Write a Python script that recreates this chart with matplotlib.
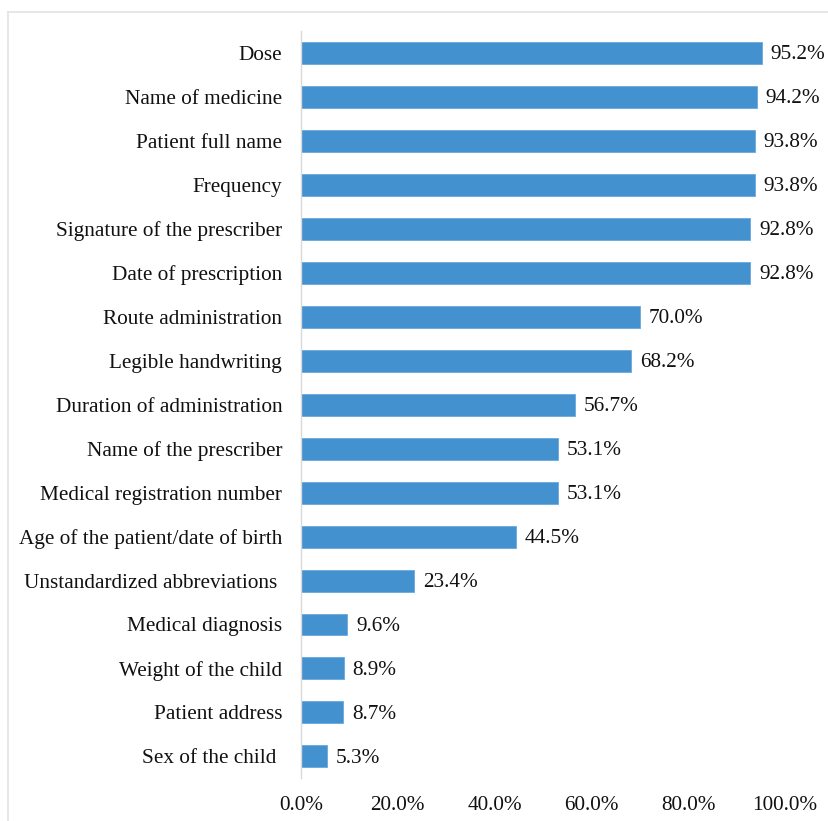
import matplotlib.pyplot as plt
from matplotlib.lines import Line2D
from matplotlib.ticker import FuncFormatter

plt.rcParams["font.family"] = ["Liberation Serif", "DejaVu Serif"]

items = [
    "Dose",
    "Name of medicine",
    "Patient full name",
    "Frequency",
    "Signature of the prescriber",
    "Date of prescription",
    "Route administration",
    "Legible handwriting",
    "Duration of administration",
    "Name of the prescriber",
    "Medical registration number",
    "Age of the patient/date of birth",
    "Unstandardized abbreviations ",
    "Medical diagnosis",
    "Weight of the child",
    "Patient address",
    "Sex of the child ",
]
percent = [95.2, 94.2, 93.8, 93.8, 92.8, 92.8, 70.0, 68.2, 56.7,
           53.1, 53.1, 44.5, 23.4, 9.6, 8.9, 8.7, 5.3]
x_ticks = [0, 20, 40, 60, 80, 100]

fs = 15.3
fig = plt.figure(figsize=(8.29, 8.21), dpi=100)
ax = fig.add_axes([0.363, 0.052, 0.584, 0.91])

pos = list(range(len(items)))
ax.barh(pos, percent, height=0.5, color="#4391cf", edgecolor="#6aa9dc", linewidth=0.6)
for y, v in zip(pos, percent):
    ax.text(v + 1.8, y + 0.04, f"{v:.1f}%", va="center", ha="left", fontsize=fs, color="#111111")

ax.set_yticks(pos)
ax.set_yticklabels(items, fontsize=fs, color="#111111")
ax.set_ylim(len(items) - 0.5, -0.5)
ax.set_xlim(0, 100)
ax.set_xticks(x_ticks)
ax.xaxis.set_major_formatter(FuncFormatter(lambda v, _: f"{v:.1f}%"))
ax.tick_params(axis="x", labelsize=fs, length=0, pad=12.5, colors="#111111")
ax.tick_params(axis="y", length=0, pad=13.5)

for side in ("top", "right", "bottom"):
    ax.spines[side].set_visible(False)
ax.spines["left"].set_color("#d9d9d9")
ax.spines["left"].set_linewidth(1.0)

# light frame along the top and left edges
fig.add_artist(Line2D([8 / 829, 1.0], [1 - 12 / 821, 1 - 12 / 821], color="#e3e3e3", lw=1.2))
fig.add_artist(Line2D([8 / 829, 8 / 829], [0.0, 1 - 12 / 821], color="#e3e3e3", lw=1.2))

fig.savefig("out.png", dpi=100)
